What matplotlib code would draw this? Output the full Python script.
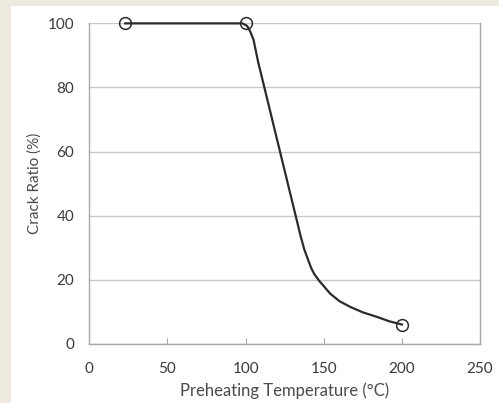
import matplotlib.pyplot as plt
import matplotlib.patches as mpatches

# curve (smoothed line)
curve_x = [23, 98, 101, 103, 105, 108, 112, 117, 122, 127, 132, 135, 137.5,
           140, 142, 144, 147, 150, 154, 160, 167, 175, 184, 192, 200]
curve_y = [100, 100, 99.2, 97.4, 95, 88, 80, 70, 60, 50, 40, 34, 29.5,
           26.2, 23.6, 21.7, 19.7, 18, 15.7, 13.3, 11.5, 9.8, 8.4, 7, 6]

# measured points (markers)
temps = [23, 100, 200]
crack = [100, 100, 6]

xticks = [0, 50, 100, 150, 200, 250]
yticks = [0, 20, 40, 60, 80, 100]

plt.rcParams['font.family'] = ['Lato', 'DejaVu Sans']

fig = plt.figure(figsize=(4.99, 4.03), dpi=100)
fig.patch.set_facecolor("#efeae0")
fig.add_artist(mpatches.Rectangle((11 / 499, 0), 1, 1 - 6 / 403,
                                  transform=fig.transFigure,
                                  facecolor="white", edgecolor="none", zorder=-10))

ax = fig.add_axes([0.179, 0.147, 0.783, 0.795])
ax.set_facecolor("white")

ax.plot(curve_x, curve_y, color="#2b2b2b", linewidth=1.6, zorder=3, clip_on=False)
ax.plot(temps, crack, linestyle="none", marker="o", markersize=8.5,
        markerfacecolor="none", markeredgecolor="#2b2b2b", markeredgewidth=1.1,
        zorder=4, clip_on=False)

ax.set_xlim(0, 250)
ax.set_ylim(0, 100)
ax.set_xticks(xticks)
ax.set_yticks(yticks)
ax.yaxis.grid(True, color="#c8c8c8", linewidth=1.0, zorder=0)
ax.set_axisbelow(True)

for side in ["left", "bottom", "right"]:
    ax.spines[side].set_color("#a8a8a8")
    ax.spines[side].set_linewidth(1.0)
ax.spines["top"].set_visible(False)

ax.tick_params(axis="x", direction="in", length=4, color="#a8a8a8",
               labelsize=11, labelcolor="#3a3a3a", pad=13)
ax.tick_params(axis="y", length=0, labelsize=11, labelcolor="#3a3a3a", pad=11)

ax.set_xlabel("Preheating Temperature (\u00b0C)", fontsize=12, color="#4a4a4a", labelpad=5)
ax.set_ylabel("Crack Ratio (%)", fontsize=11, color="#4a4a4a", labelpad=4)

plt.savefig("out.png", dpi=100)
